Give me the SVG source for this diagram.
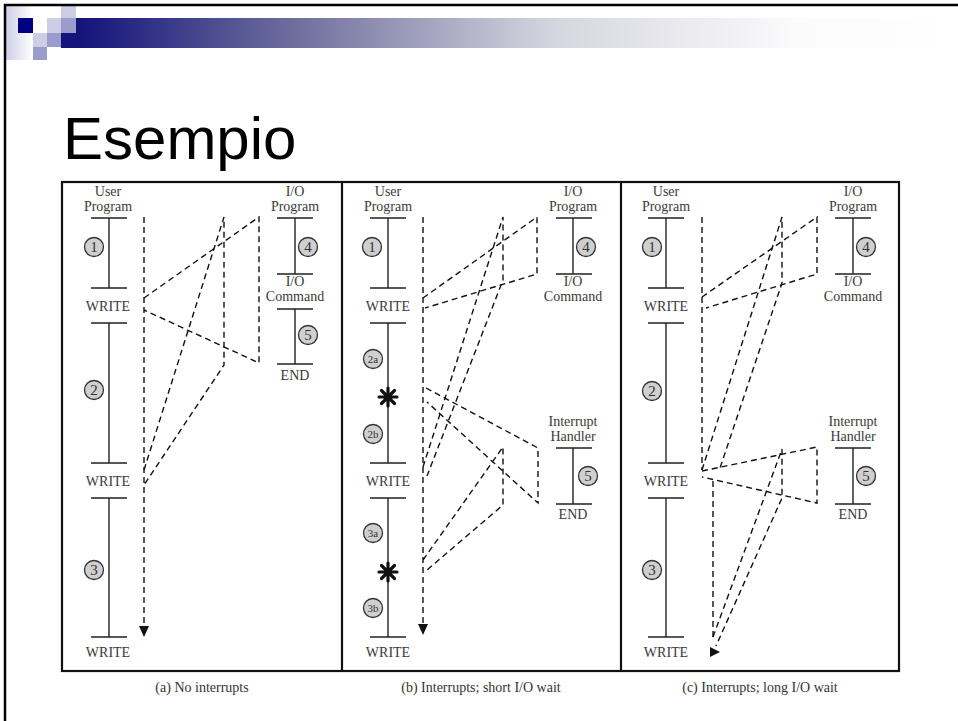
<svg xmlns="http://www.w3.org/2000/svg" width="958" height="721" viewBox="0 0 958 721">
<defs>
<linearGradient id="bar" x1="61" y1="0" x2="958" y2="0" gradientUnits="userSpaceOnUse">
<stop offset="0" stop-color="#0c0c78"/>
<stop offset="0.27" stop-color="#7272a0"/>
<stop offset="0.55" stop-color="#d6d6e0"/>
<stop offset="0.82" stop-color="#fbfbfc"/>
<stop offset="1" stop-color="#ffffff"/>
</linearGradient>
<linearGradient id="lav" x1="0" y1="0" x2="1" y2="0">
<stop offset="0" stop-color="#cfcfe8"/>
<stop offset="1" stop-color="#ffffff"/>
</linearGradient>
</defs>
<style>
.t{font-family:"Liberation Serif","DejaVu Serif",serif;font-size:14px;fill:#3a3a3a;text-anchor:middle}
.n{font-family:"Liberation Serif","DejaVu Serif",serif;font-size:15px;fill:#333;text-anchor:middle}
.ns{font-family:"Liberation Serif","DejaVu Serif",serif;font-size:11px;fill:#333;text-anchor:middle}
.cap{font-family:"Liberation Serif","DejaVu Serif",serif;font-size:14px;fill:#333;text-anchor:middle}
.ln{stroke:#222;stroke-width:1.4;fill:none}
.c{fill:#cfcfcf;stroke:#333;stroke-width:1.3}
.d{stroke:#111;stroke-width:1.4;fill:none;stroke-dasharray:6 4}
.ast{stroke:#111;stroke-width:3.2;stroke-linecap:round}
.frame{fill:none;stroke:#111;stroke-width:2.2}
</style>
<rect width="958" height="721" fill="#ffffff"/>
<g id="header">
<rect x="6" y="6" width="27" height="54" fill="url(#lav)"/>
<rect x="18" y="18" width="15" height="15" fill="#000080"/>
<rect x="61" y="6" width="15" height="12" fill="#cdcde6"/>
<rect x="47" y="18" width="14" height="15" fill="#cdcde6"/>
<rect x="61" y="18" width="15" height="15" fill="#9c9ccc"/>
<rect x="33" y="33" width="14" height="14" fill="#cdcde6"/>
<rect x="47" y="33" width="14" height="14" fill="#9c9ccc"/>
<rect x="33" y="47" width="14" height="13" fill="#9c9ccc"/>
<rect x="61" y="33" width="15" height="15" fill="#14147c"/>
<rect x="76" y="18" width="882" height="30" fill="url(#bar)"/>
<line x1="4" y1="5" x2="958" y2="5" stroke="#000" stroke-width="2.5"/>
<line x1="5" y1="4" x2="5" y2="721" stroke="#000" stroke-width="2.5"/>
</g>
<text x="63" y="159" font-family="Liberation Sans, Arial, sans-serif" font-size="60" fill="#000">Esempio</text>
<g id="frame">
<rect class="frame" x="62" y="182" width="837" height="489"/>
<line x1="342" y1="182" x2="342" y2="671" stroke="#111" stroke-width="2.2"/>
<line x1="621" y1="182" x2="621" y2="671" stroke="#111" stroke-width="2.2"/>
</g>
<g id="a-user">
<text class="t" x="108" y="196">User</text>
<text class="t" x="108" y="211">Program</text>
<path class="ln" d="M91 218H127M109 218V288M91 288H127M91 323H127M109 323V463M91 463H127M91 498H127M109 498V637M91 637H127"/>
<text class="t" x="108" y="311">WRITE</text>
<text class="t" x="108" y="486">WRITE</text>
<text class="t" x="108" y="657">WRITE</text>
<circle class="c" cx="94" cy="247" r="9.5"/><text class="n" x="94" y="252">1</text>
<circle class="c" cx="94" cy="390" r="9.5"/><text class="n" x="94" y="395">2</text>
<circle class="c" cx="94" cy="570" r="9.5"/><text class="n" x="94" y="575">3</text>
</g>
<g id="a-io">
<text class="t" x="295" y="196">I/O</text>
<text class="t" x="295" y="211">Program</text>
<path class="ln" d="M277 218H313M295 218V274M277 274H313M277 309H313M295 309V364M277 364H313"/>
<text class="t" x="295" y="286">I/O</text>
<text class="t" x="295" y="301">Command</text>
<text class="t" x="295" y="380">END</text>
<circle class="c" cx="308" cy="247" r="9.5"/><text class="n" x="308" y="252">4</text>
<circle class="c" cx="308" cy="335" r="9.5"/><text class="n" x="308" y="340">5</text>
</g>
<g id="b-user">
<text class="t" x="388" y="196">User</text>
<text class="t" x="388" y="211">Program</text>
<path class="ln" d="M370 218H406M388 218V288M370 288H406M370 323H406M388 323V463M370 463H406M370 498H406M388 498V637M370 637H406"/>
<text class="t" x="388" y="311">WRITE</text>
<text class="t" x="388" y="486">WRITE</text>
<text class="t" x="388" y="657">WRITE</text>
<circle class="c" cx="372" cy="247" r="9.5"/><text class="n" x="372" y="252">1</text>
<circle class="c" cx="373" cy="359" r="9.5"/><text class="ns" x="373" y="363">2a</text>
<circle class="c" cx="373" cy="434" r="9.5"/><text class="ns" x="373" y="438">2b</text>
<circle class="c" cx="373" cy="533" r="9.5"/><text class="ns" x="373" y="537">3a</text>
<circle class="c" cx="373" cy="608" r="9.5"/><text class="ns" x="373" y="612">3b</text>
<path class="ast" d="M388 388V406M379 397H397M381.5 390.5L394.5 403.5M381.5 403.5L394.5 390.5"/>
<path class="ast" d="M388 563V581M379 572H397M381.5 565.5L394.5 578.5M381.5 578.5L394.5 565.5"/>
</g>
<g id="b-io">
<text class="t" x="573" y="196">I/O</text>
<text class="t" x="573" y="211">Program</text>
<path class="ln" d="M556 218H592M573 218V274M556 274H592"/>
<text class="t" x="573" y="286">I/O</text>
<text class="t" x="573" y="301">Command</text>
<circle class="c" cx="586" cy="247" r="9.5"/><text class="n" x="586" y="252">4</text>
</g>
<g id="b-handler">
<text class="t" x="573" y="426">Interrupt</text>
<text class="t" x="573" y="441">Handler</text>
<path class="ln" d="M556 448H592M573 448V504M556 504H592"/>
<text class="t" x="573" y="519">END</text>
<circle class="c" cx="588" cy="476" r="9.5"/><text class="n" x="588" y="481">5</text>
</g>
<g id="c-user">
<text class="t" x="666" y="196">User</text>
<text class="t" x="666" y="211">Program</text>
<path class="ln" d="M648 218H684M666 218V288M648 288H684M648 323H684M666 323V463M648 463H684M648 498H684M666 498V637M648 637H684"/>
<text class="t" x="666" y="311">WRITE</text>
<text class="t" x="666" y="486">WRITE</text>
<text class="t" x="666" y="657">WRITE</text>
<circle class="c" cx="652" cy="247" r="9.5"/><text class="n" x="652" y="252">1</text>
<circle class="c" cx="652" cy="391" r="9.5"/><text class="n" x="652" y="396">2</text>
<circle class="c" cx="652" cy="570" r="9.5"/><text class="n" x="652" y="575">3</text>
</g>
<g id="c-io">
<text class="t" x="853" y="196">I/O</text>
<text class="t" x="853" y="211">Program</text>
<path class="ln" d="M835 218H871M853 218V274M835 274H871"/>
<text class="t" x="853" y="286">I/O</text>
<text class="t" x="853" y="301">Command</text>
<circle class="c" cx="866" cy="247" r="9.5"/><text class="n" x="866" y="252">4</text>
</g>
<g id="c-handler">
<text class="t" x="853" y="426">Interrupt</text>
<text class="t" x="853" y="441">Handler</text>
<path class="ln" d="M835 448H871M853 448V504M835 504H871"/>
<text class="t" x="853" y="519">END</text>
<circle class="c" cx="866" cy="476" r="9.5"/><text class="n" x="866" y="481">5</text>
</g>
<g id="connectors">
<line class="d" x1="144" y1="217" x2="144" y2="627"/>
<polygon points="139,626 149,626 144,637" fill="#111"/>
<polyline class="d" points="144,298 259,217 259,363 144,310"/>
<polyline class="d" points="144,470 224,217 224,365 144,485"/>
<line class="d" x1="423" y1="217" x2="423" y2="625"/>
<polygon points="418,624 428,624 423,635" fill="#111"/>
<polyline class="d" points="423,298 537,217 537,274 425,308"/>
<polyline class="d" points="423,467 503,217 503,280 427,476"/>
<polyline class="d" points="426,388 538,448 538,503 427,402"/>
<polyline class="d" points="423,560 503,447 503,505 427,570"/>
<line class="d" x1="702" y1="217" x2="702" y2="470"/>
<polyline class="d" points="702,297 817,217 817,274 706,308"/>
<polyline class="d" points="702,470 782,217 782,283 720,468"/>
<polyline class="d" points="702,471 817,447 817,503 702,477"/>
<line class="d" x1="713" y1="481" x2="713" y2="637"/>
<polyline class="d" points="713,637 782,449 782,498 716,646"/>
<polygon points="710,647 710,657 720,652" fill="#111"/>
</g>
<g id="captions">
<text class="cap" x="202" y="692">(a) No interrupts</text>
<text class="cap" x="481" y="692">(b) Interrupts; short I/O wait</text>
<text class="cap" x="760" y="692">(c) Interrupts; long I/O wait</text>
</g>
</svg>
